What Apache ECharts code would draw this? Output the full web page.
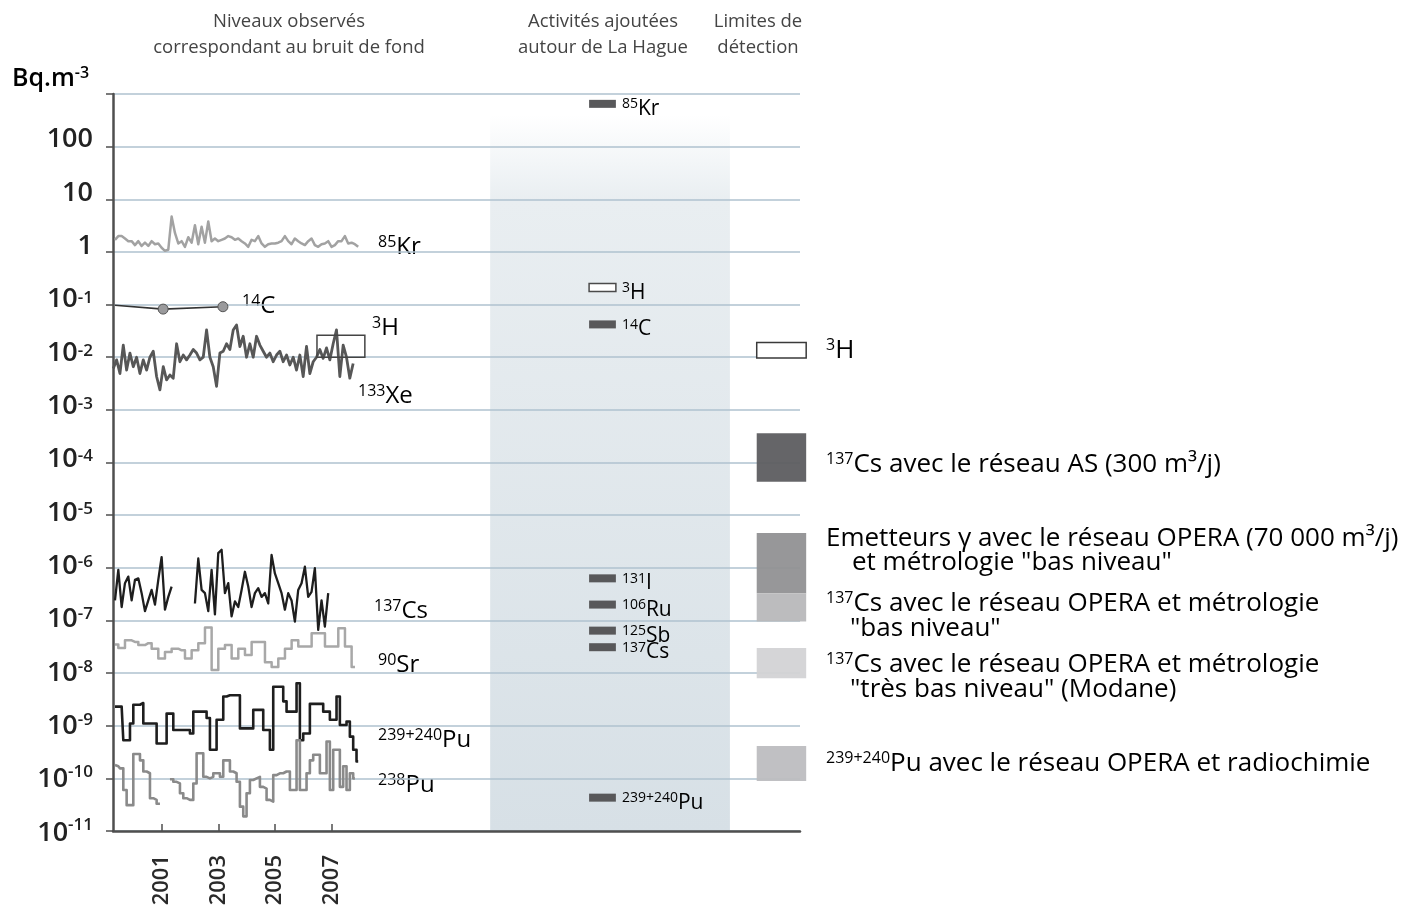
<!DOCTYPE html>
<html>
<head>
<meta charset="utf-8">
<script src="https://cdn.jsdelivr.net/npm/echarts@6/dist/echarts.min.js"></script>
<style>
  html, body { margin: 0; padding: 0; background: #ffffff; }
  #chart { width: 1410px; height: 919px; }
</style>
</head>
<body>
<div id="chart"></div>
<script>
// ---------------------------------------------------------------
// Background levels around La Hague (Bq.m-3), 1999 - 2008
// ---------------------------------------------------------------
const YEAR_TICKS = [2001, 2003, 2005, 2007];
const STEP_FINE = 0.1176;   // sampling step of the dense records (years)
const STEP_SR = 0.2353;     // sampling step of the 90Sr record (years)

const KR85_START = 1999.35;
const KR85 = [1.7, 2.0, 2.0, 1.8, 1.6, 1.6, 1.35, 1.6, 1.3, 1.5, 1.3, 1.6, 1.4, 1.45, 1.2, 1.05, 1.1, 4.7, 2.3, 1.45,
  1.6, 1.25, 1.9, 1.5, 3.2, 1.4, 3.0, 1.5, 3.8, 1.6, 1.8, 1.6, 1.7, 1.8, 2.0, 1.9, 1.7, 1.8, 1.6, 1.45,
  1.25, 1.7, 1.6, 2.0, 1.45, 1.25, 1.4, 1.45, 1.45, 1.5, 1.6, 2.0, 1.6, 1.4, 1.8, 1.6, 1.45, 1.35, 1.6, 1.8,
  1.35, 1.25, 1.4, 1.45, 1.6, 1.25, 1.35, 1.6, 1.6, 2.0, 1.45, 1.5, 1.4, 1.25];

const C14_YEARS = [1999.35, 2001.05, 2003.16];
const C14 = [0.097, 0.082, 0.091];

const XE133_START = 1999.29;
const XE133 = [6.1e-3, 8.9e-3, 4.9e-3, 1.7e-2, 5.7e-3, 1.2e-2, 6.6e-3, 1.0e-2, 4.9e-3, 8.9e-3, 5.7e-3, 1.0e-2,
  1.3e-2, 4.3e-3, 2.4e-3, 6.6e-3, 3.7e-3, 4.6e-3, 4.0e-3, 1.8e-2, 8.2e-3, 1.1e-2, 8.9e-3, 1.1e-2, 1.4e-2,
  1.2e-2, 8.9e-3, 1.0e-2, 3.3e-2, 1.0e-2, 6.6e-3, 2.8e-3, 1.2e-2, 1.3e-2, 1.8e-2, 1.4e-2, 3.3e-2, 4.1e-2,
  1.6e-2, 2.5e-2, 1.0e-2, 1.8e-2, 1.0e-2, 2.5e-2, 1.7e-2, 1.3e-2, 1.0e-2, 1.2e-2, 8.2e-3, 1.1e-2, 1.3e-2,
  8.2e-3, 1.1e-2, 7.1e-3, 1.0e-2, 5.7e-3, 1.1e-2, 4.3e-3, 1.6e-2, 4.9e-3, 8.2e-3, 1.0e-2, 1.4e-2, 9.5e-3,
  1.5e-2, 8.9e-3, 1.8e-2, 3.3e-2, 4.3e-3, 1.7e-2, 1.0e-2, 4.0e-3, 7.6e-3];

// range of tritium levels observed over 2006-2008
const H3_YEARS = [2006.48, 2008.17];
const H3_RANGE = [1.0e-2, 2.6e-2];

const CS137_START = 1999.35;
const CS137 = [2.4e-7, 9.1e-7, 1.8e-7, 5.1e-7, 6.8e-7, 2.4e-7, 5.9e-7, 6.3e-7, 3.3e-7, 1.5e-7, 2.4e-7, 3.8e-7,
  2.0e-7, 5.9e-7, 1.6e-6, 1.6e-7, 2.8e-7, 4.4e-7, null, null, null, null, null, null,
  2.1e-7, 1.5e-6, 3.8e-7, 3.3e-7, 1.5e-7, 9.1e-7, 1.3e-7, 1.9e-6, 2.2e-6, 3.3e-7, 5.1e-7, 1.2e-7, 2.3e-7,
  1.8e-7, 3.8e-7, 8.4e-7, 4.4e-7, 1.8e-7, 3.3e-7, 4.1e-7, 2.8e-7, 3.3e-7, 2.1e-7, 1.75e-6, 7.8e-7, 5.1e-7,
  3.3e-7, 1.6e-7, 3.3e-7, 2.4e-7, 9.5e-8, 3.8e-7, 5.1e-7, 1.05e-6, 2.8e-7, 3.5e-7, 9.8e-7, 6.6e-8, 2.4e-7,
  7.6e-8, 3.3e-7];

const SR90_START = 1999.35;
const SR90 = [3.5e-8, 3.0e-8, 4.2e-8, 3.9e-8, 3.4e-8, 3.7e-8, 2.9e-8, 1.9e-8, 2.5e-8, 2.9e-8, 2.7e-8, 1.9e-8,
  2.7e-8, 3.7e-8, 7.3e-8, 1.15e-8, 2.9e-8, 3.4e-8, 1.9e-8, 2.9e-8, 2.2e-8, 3.9e-8, 3.9e-8, 1.6e-8, 1.3e-8,
  1.9e-8, 2.9e-8, 4.2e-8, 3.2e-8, 3.2e-8, 5.7e-8, 5.7e-8, 3.2e-8, 3.2e-8, 7.1e-8, 3.2e-8, 1.3e-8];

const PU239_START = 1999.35;
const PU239 = [2.3e-9, 2.3e-9, 2.3e-9, 5.3e-10, 5.3e-10, 1.1e-9, 2.5e-9, 2.5e-9, 2.7e-9, 1.1e-9, 1.1e-9, 1.1e-9,
  1.1e-9, 4.6e-10, 4.6e-10, 4.6e-10, 1.7e-9, 1.7e-9, 8.3e-10, 8.3e-10, 8.3e-10, 8.3e-10, 8.3e-10, 7.1e-10,
  1.85e-9, 1.85e-9, 1.85e-9, 1.85e-9, 1.4e-9, 3.5e-10, 3.5e-10, 1.3e-9, 1.3e-9, 3.6e-9, 3.8e-9, 3.8e-9,
  3.8e-9, 3.8e-9, 8.9e-10, 8.9e-10, 8.9e-10, 8.9e-10, 2.0e-9, 2.0e-9, 2.0e-9, 8.3e-10, 8.3e-10, 3.5e-10,
  5.5e-9, 5.5e-9, 5.5e-9, 2.9e-9, 1.85e-9, 1.85e-9, 1.85e-9, 6.4e-9, 5.3e-10, 7.1e-10, 7.1e-10, 2.6e-9,
  2.6e-9, 2.6e-9, 2.6e-9, 1.85e-9, 1.85e-9, 1.3e-9, 1.3e-9, 3.6e-9, 1.03e-9, 1.03e-9, 1.2e-9, 6.2e-10,
  3.5e-10, 2.1e-10];

const PU238_START = 1999.35;
const PU238 = [1.8e-10, 1.7e-10, 1.55e-10, 6.0e-11, 3.1e-11, 3.1e-11, 2.9e-10, 2.9e-10, 2.2e-10, 1.35e-10,
  1.25e-10, 4.2e-11, 3.9e-11, 3.3e-11, null, null, null,
  9.6e-11, 8.6e-11, 8.0e-11, 5.2e-11, 4.2e-11, 3.9e-11, 3.9e-11, 8.0e-11, 3.0e-10, 3.0e-10, 1.07e-10,
  1.0e-10, 1.07e-10, 1.25e-10, 1.25e-10, 1.07e-10, 2.2e-10, 2.2e-10, 1.35e-10, 1.25e-10, 8.6e-11, 2.9e-11,
  1.9e-11, 5.2e-11, 9.3e-11, 1.0e-10, 1.07e-10, 6.9e-11, 6.4e-11, 3.9e-11, 3.6e-11, 1.15e-10, 1.25e-10,
  1.25e-10, 1.35e-10, 1.35e-10, 6.0e-11, 6.0e-11, 5.3e-10, 6.0e-11, 6.0e-11, 1.25e-10, 2.2e-10, 2.8e-10,
  2.8e-10, 1.25e-10, 1.25e-10, 5.0e-10, 6.0e-11, 3.5e-10, 3.5e-10, 6.9e-11, 1.7e-10, 6.0e-11, 1.25e-10,
  1.0e-10];

// ---------------------------------------------------------------
// Activities added around La Hague (Bq.m-3)
// ---------------------------------------------------------------
const ADDED_VALUES = [650, 0.21, 0.042, 6.3e-7, 2.0e-7, 6.4e-8, 3.1e-8, 4.3e-11];
const ADDED_SUP = ['85', '3', '14', '131', '106', '125', '137', '239+240'];
const ADDED_EL = ['Kr', 'H', 'C', 'I', 'Ru', 'Sb', 'Cs', 'Pu'];
const ADDED_OPEN = [false, true, false, false, false, false, false, false];

// ---------------------------------------------------------------
// Detection limits (Bq.m-3): low / high bound of each box
// ---------------------------------------------------------------
const LIMIT_LOW = [9.7e-3, 4.3e-5, 3.3e-7, 9.5e-8, 8.0e-9, 8.9e-11];
const LIMIT_HIGH = [1.9e-2, 3.6e-4, 4.6e-6, 3.3e-7, 3.0e-8, 4.1e-10];
const LIMIT_FILL = ['#ffffff', '#5d5d60', '#919194', '#b8b8bb', '#d3d3d5', '#bdbdc0'];

// ---------------------------------------------------------------
const FONT = "'Open Sans', 'Noto Sans', sans-serif";
const Y_MIN = 1e-11, Y_MAX = 1000;
const X_MIN = 1999.28, X_MAX = 2023.53;

// horizontal layout of the two right-hand panels, in % of the plot width
const BAND = { x0: 54.9, x1: 89.8, top: 400 };
const ADDED_X = [69.3, 73.2];
const LIMIT_X = [93.7, 100.9];

const toPairs = (start, step, vals) => vals.map((v, i) => [start + i * step, v]);

const supRich = (base, sup, color, weight) => ({
  t: { fontFamily: FONT, fontSize: base, lineHeight: base + 2, color: color, fontWeight: weight || 400 },
  s: { fontFamily: FONT, fontSize: sup, lineHeight: sup, color: color, fontWeight: weight || 400, verticalAlign: 'top' }
});

// y-axis tick labels: the printed labels sit a little above their gridline
// near the top of the scale, and right on it near the bottom
const yLabelRich = {
  s: { fontFamily: FONT, fontSize: 17, fontWeight: 600, color: '#222', lineHeight: 17, verticalAlign: 'top' }
};
for (let e = -11; e <= 2; e++) {
  const lift = Math.round(-2 + 9 * (e + 11) / 13);
  yLabelRich['b' + (e + 11)] = {
    fontFamily: FONT, fontSize: 27, fontWeight: 600, color: '#222', lineHeight: 29,
    padding: lift >= 0 ? [0, 0, 2 * lift, 0] : [-2 * lift, 0, 0, 0]
  };
}

const chart = echarts.init(document.getElementById('chart'), null, { renderer: 'canvas' });

const lineSeries = (name, data, color, width, step) => ({
  name, type: 'line', xAxisIndex: 0, yAxisIndex: 0,
  data, step: step || false, symbol: 'none', connectNulls: false,
  lineStyle: { color, width, join: 'round' }, z: 3
});

// text labels: headers, species names, legend of the detection limits
const richSpecies = supRich(24, 16, '#2a2a2a');
const richSpeciesGrey = supRich(24, 16, '#9a9a9a');
const richLegend = supRich(26, 16, '#222222');

const textEl = (x, y, text, rich, align) => ({
  type: 'text', x, y, silent: true,
  style: { text, rich, align: align || 'left', verticalAlign: 'middle' }
});
const plainText = (x, y, text, size, color, align) => ({
  type: 'text', x, y, silent: true,
  style: { text, fontFamily: FONT, fontSize: size, fill: color, align: align || 'center', verticalAlign: 'middle' }
});

const graphics = [
  plainText(289, 22, 'Niveaux observés', 18.5, '#444'),
  plainText(289, 48, 'correspondant au bruit de fond', 18.5, '#444'),
  plainText(603, 22, 'Activités ajoutées', 18.5, '#444'),
  plainText(603, 48, 'autour de La Hague', 18.5, '#444'),
  plainText(758, 22, 'Limites de', 18.5, '#444'),
  plainText(758, 48, 'détection', 18.5, '#444'),
  textEl(12, 79, '{t|Bq.m}{s|-3}', supRich(25, 16, '#222', 600)),

  textEl(378, 247, '{s|85}{t|Kr}', richSpecies),
  textEl(242, 306, '{s|14}{t|C}', richSpecies),
  textEl(372, 328, '{s|3}{t|H}', richSpecies),
  textEl(358, 396, '{s|133}{t|Xe}', richSpecies),
  textEl(374, 611, '{s|137}{t|Cs}', richSpecies),
  textEl(378, 665, '{s|90}{t|Sr}', richSpeciesGrey),
  textEl(378, 740, '{s|239+240}{t|Pu}', richSpecies),
  textEl(378, 785, '{s|238}{t|Pu}', richSpecies),

  textEl(826, 351, '{s|3}{t|H}', richLegend),
  textEl(826, 465, '{s|137}{t|Cs avec le réseau AS (300 m³/j)}', richLegend),
  textEl(826, 539, '{t|Emetteurs γ avec le réseau OPERA (70 000 m³/j)}', richLegend),
  textEl(852, 563, '{t|et métrologie "bas niveau"}', richLegend),
  textEl(826, 604, '{s|137}{t|Cs avec le réseau OPERA et métrologie}', richLegend),
  textEl(850, 629, '{t|"bas niveau"}', richLegend),
  textEl(826, 665, '{s|137}{t|Cs avec le réseau OPERA et métrologie}', richLegend),
  textEl(850, 690, '{t|"très bas niveau" (Modane)}', richLegend),
  textEl(826, 764, '{s|239+240}{t|Pu avec le réseau OPERA et radiochimie}', richLegend)
];

const option = {
  animation: false,
  backgroundColor: '#ffffff',
  grid: { left: 113, right: 610, top: 94, bottom: 88, containLabel: false },
  xAxis: [
    {
      type: 'value', min: X_MIN, max: X_MAX,
      axisLine: { show: true, onZero: false, lineStyle: { color: '#4f4f4f', width: 2.5 } },
      axisTick: { show: true, inside: true, length: 7, customValues: YEAR_TICKS, lineStyle: { color: '#4f4f4f', width: 1.5 } },
      axisLabel: {
        customValues: YEAR_TICKS, rotate: 90, margin: 24,
        fontFamily: FONT, fontSize: 22, fontWeight: 600, color: '#2a2a2a',
        formatter: v => String(Math.round(v))
      },
      splitLine: { show: false }
    },
    { type: 'value', min: 0, max: 100, show: false }
  ],
  yAxis: {
    type: 'log', logBase: 10, min: Y_MIN, max: Y_MAX, interval: 1,
    axisLine: { show: true, lineStyle: { color: '#4f4f4f', width: 2.5 } },
    axisTick: { show: true, length: 7, lineStyle: { color: '#4f4f4f', width: 1.5 } },
    splitLine: { show: true, lineStyle: { color: '#afc2cf', width: 1.5 } },
    axisLabel: {
      margin: 20,
      formatter: v => {
        const e = Math.round(Math.log10(v));
        if (e >= 3) return '';
        const b = 'b' + (e + 11);
        if (e >= 0) return '{' + b + '|' + Math.pow(10, e) + '}';
        return '{' + b + '|10}{s|-' + Math.abs(e) + '}';
      },
      rich: yLabelRich
    }
  },
  graphic: graphics,
  series: [
    // shaded band behind the added activities
    {
      type: 'custom', xAxisIndex: 1, yAxisIndex: 0, z: -1, silent: true, clip: false,
      data: [[BAND.x0, BAND.top]],
      renderItem: (params, api) => {
        const tl = api.coord([BAND.x0, BAND.top]);
        const br = api.coord([BAND.x1, Y_MIN]);
        return {
          type: 'rect',
          shape: { x: tl[0], y: tl[1], width: br[0] - tl[0], height: br[1] - tl[1] },
          style: {
            fill: new echarts.graphic.LinearGradient(0, 0, 0, 1, [
              { offset: 0, color: 'rgba(232,238,242,0)' },
              { offset: 0.12, color: '#e9eef1' },
              { offset: 1, color: '#d7e0e6' }
            ])
          }
        };
      }
    },
    lineSeries('85Kr', toPairs(KR85_START, STEP_FINE, KR85), '#a2a2a2', 2.5),
    {
      name: '14C', type: 'line', xAxisIndex: 0, yAxisIndex: 0, z: 4,
      data: C14.map((v, i) => ({
        value: [C14_YEARS[i], v],
        symbol: i === 0 ? 'none' : 'circle'
      })),
      symbolSize: 10,
      itemStyle: { color: '#9a9a9c', borderColor: '#555', borderWidth: 1 },
      lineStyle: { color: '#333', width: 1.6 }
    },
    lineSeries('133Xe', toPairs(XE133_START, STEP_FINE, XE133), '#575757', 2.8),
    {
      name: '3H', type: 'custom', xAxisIndex: 0, yAxisIndex: 0, z: 5, silent: true,
      data: [[H3_YEARS[0], H3_RANGE[1], H3_YEARS[1], H3_RANGE[0]]],
      renderItem: (params, api) => {
        const a = api.coord([api.value(0), api.value(1)]);
        const b = api.coord([api.value(2), api.value(3)]);
        return {
          type: 'rect',
          shape: { x: a[0], y: a[1], width: b[0] - a[0], height: b[1] - a[1] },
          style: { fill: 'none', stroke: '#444', lineWidth: 1.5 }
        };
      }
    },
    lineSeries('137Cs', toPairs(CS137_START, STEP_FINE, CS137), '#1e1e1e', 2.3),
    lineSeries('90Sr', toPairs(SR90_START, STEP_SR, SR90), '#a8a8a8', 2.5, 'middle'),
    lineSeries('239+240Pu', toPairs(PU239_START, STEP_FINE, PU239), '#1e1e1e', 2.6, 'middle'),
    lineSeries('238Pu', toPairs(PU238_START, STEP_FINE, PU238), '#8a8a8a', 2.6, 'middle'),
    // added activities: short bars with their isotope label
    {
      type: 'custom', xAxisIndex: 1, yAxisIndex: 0, z: 5, silent: true, clip: false,
      data: ADDED_VALUES.map(v => [ADDED_X[0], v]),
      renderItem: (params, api) => {
        const i = params.dataIndex;
        const a = api.coord([ADDED_X[0], api.value(1)]);
        const b = api.coord([ADDED_X[1], api.value(1)]);
        const h = 8;
        const open = ADDED_OPEN[i];
        return {
          type: 'group',
          children: [
            {
              type: 'rect',
              shape: { x: a[0], y: a[1] - h / 2, width: b[0] - a[0], height: h },
              style: open ? { fill: '#ffffff', stroke: '#4a4a4a', lineWidth: 1.5 } : { fill: '#58585a' }
            },
            {
              type: 'text', x: b[0] + 6, y: a[1] + 5,
              style: {
                text: '{s|' + ADDED_SUP[i] + '}{t|' + ADDED_EL[i] + '}',
                rich: supRich(21, 14, '#2a2a2a'),
                align: 'left', verticalAlign: 'middle'
              }
            }
          ]
        };
      }
    },
    // detection limits
    {
      type: 'custom', xAxisIndex: 1, yAxisIndex: 0, z: 5, silent: true, clip: false,
      data: LIMIT_LOW.map((v, i) => [LIMIT_X[0], LIMIT_HIGH[i], LIMIT_X[1], v]),
      renderItem: (params, api) => {
        const i = params.dataIndex;
        const a = api.coord([api.value(0), api.value(1)]);
        const b = api.coord([api.value(2), api.value(3)]);
        return {
          type: 'rect',
          shape: { x: a[0], y: a[1], width: b[0] - a[0], height: b[1] - a[1] },
          style: i === 0
            ? { fill: '#ffffff', stroke: '#3a3a3a', lineWidth: 1.5 }
            : { fill: LIMIT_FILL[i], opacity: 0.95 }
        };
      }
    }
  ]
};

chart.setOption(option);
</script>
</body>
</html>
